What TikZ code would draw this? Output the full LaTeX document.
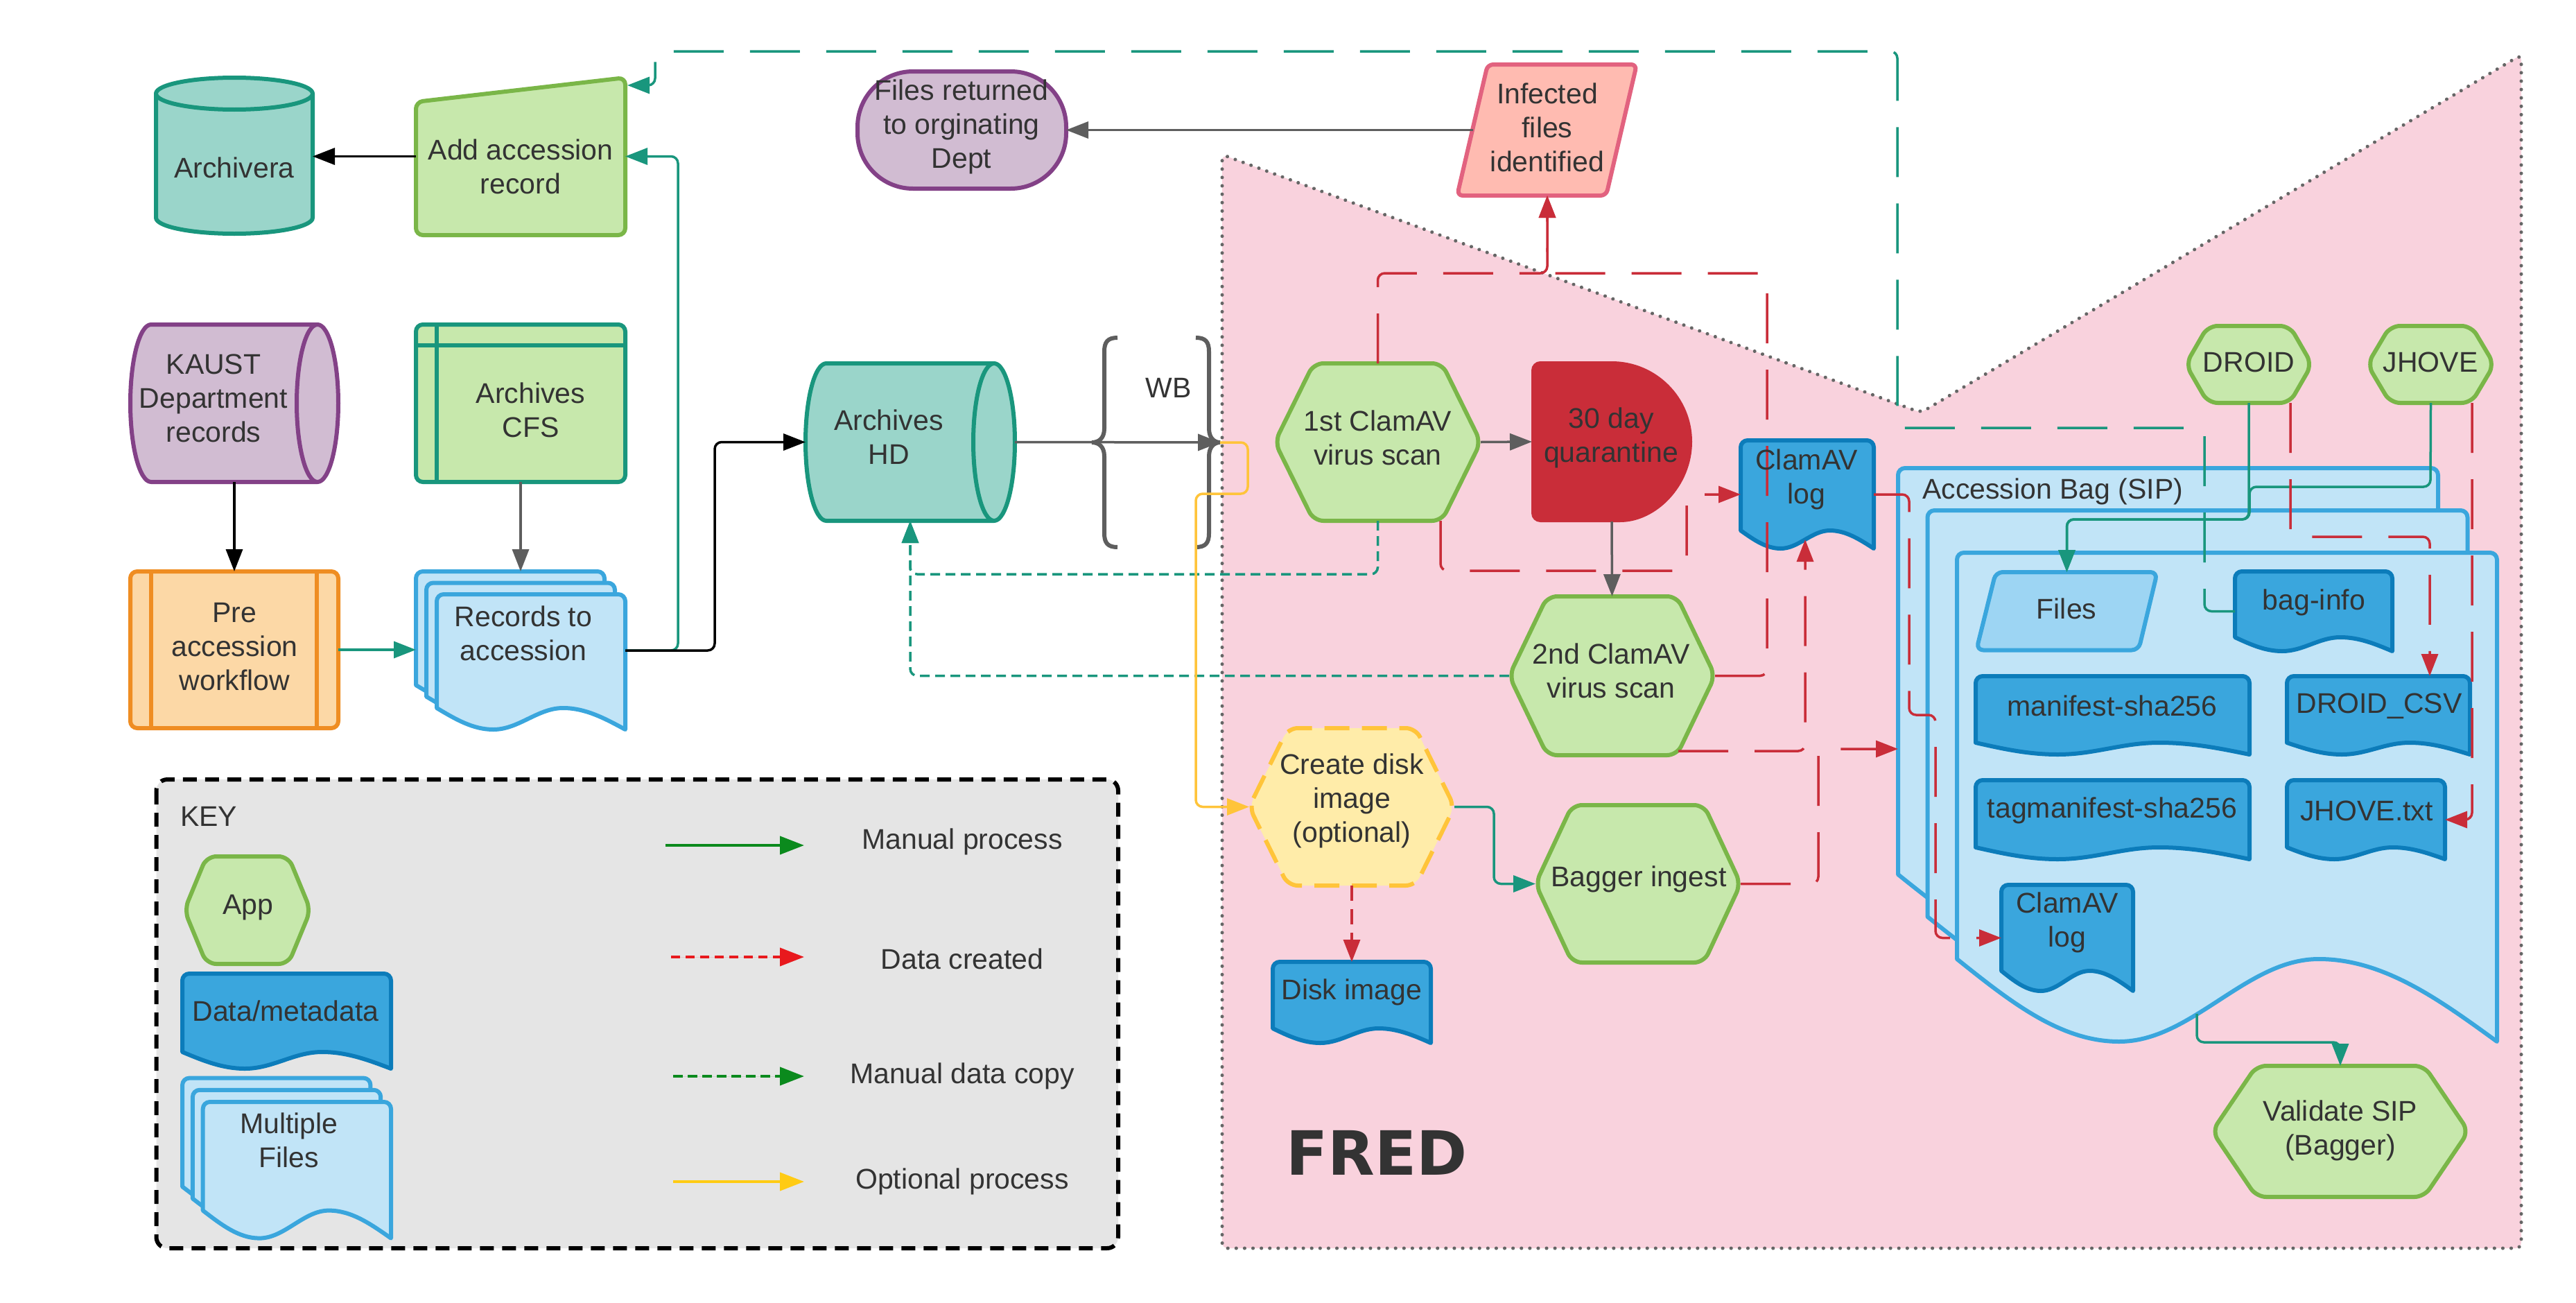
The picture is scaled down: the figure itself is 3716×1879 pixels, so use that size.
\documentclass[tikz,border=0pt]{standalone}
\usepackage{fontspec}
\setmainfont{Liberation Sans}
\newfontfamily\fredfont{DejaVu Sans}
\usetikzlibrary{arrows.meta,calc}
\definecolor{txt}{HTML}{333333}
\definecolor{grnS}{HTML}{7AB648}
\definecolor{grnF}{HTML}{C7E8AC}
\definecolor{tealS}{HTML}{19967D}
\definecolor{tealF}{HTML}{9AD5CA}
\definecolor{purS}{HTML}{834187}
\definecolor{purF}{HTML}{D1BCD2}
\definecolor{orS}{HTML}{EF8D22}
\definecolor{orF}{HTML}{FCD8A6}
\definecolor{lbS}{HTML}{3AA6DD}
\definecolor{lbF}{HTML}{C1E4F7}
\definecolor{dbS}{HTML}{0C7CBA}
\definecolor{dbF}{HTML}{3AA6DD}
\definecolor{redS}{HTML}{C92D39}
\definecolor{pinkF}{HTML}{F9D2DD}
\definecolor{infF}{HTML}{FFBBB1}
\definecolor{infS}{HTML}{E2627F}
\definecolor{yelS}{HTML}{FFC43A}
\definecolor{yelF}{HTML}{FFECA9}
\definecolor{filF}{HTML}{9DD5F3}
\definecolor{gryS}{HTML}{5E5E5E}
\definecolor{dotS}{HTML}{666666}
\definecolor{keyF}{HTML}{E5E5E5}
\definecolor{lgGreen}{HTML}{0B8A1D}
\definecolor{lgRed}{HTML}{E8191D}
\definecolor{lgYel}{HTML}{FFCB14}

\newcommand\hexa[6][]{\draw[#1] ({#2},{((#3)+(#5))/2}) -- ({(#2)+(#6)},{#3}) -- ({(#4)-(#6)},{#3}) -- ({#4},{((#3)+(#5))/2}) -- ({(#4)-(#6)},{#5}) -- ({(#2)+(#6)},{#5}) -- cycle;}
\newcommand\docu[6][]{\draw[#1] ({#2},{(#5)-(#6)}) [rounded corners=10pt] -- ({#2},{#3}) -- ({#4},{#3}) [sharp corners] -- ({#4},{#5}) sin ({(#2)+0.67*((#4)-(#2))},{(#5)-(#6)}) cos ({(#2)+0.485*((#4)-(#2))},{(#5)-0.5*(#6)}) sin ({(#2)+0.3*((#4)-(#2))},{#5}) cos ({#2},{(#5)-(#6)}) -- cycle;}
\newcommand\mdoc[8][]{%
 \docu[#1]{(#2)-2*(#7)}{(#3)-2*(#8)}{(#4)-2*(#7)}{(#5)-2*(#8)}{#6}
 \docu[#1]{(#2)-(#7)}{(#3)-(#8)}{(#4)-(#7)}{(#5)-(#8)}{#6}
 \docu[#1]{#2}{#3}{#4}{#5}{#6}}

\begin{document}
\begin{tikzpicture}[x=1pt,y=-1pt,
  geo/.style={inner sep=0pt,outer sep=0pt,draw=none,rectangle},
  lbl/.style={inner sep=0pt,text=txt,align=center,font=\fontsize{41}{49}\selectfont},
  shp/.style={line width=6pt,line join=round},
  arrtip/.style={-{Triangle[length=32pt,width=24pt]}},
  cn/.style={line width=3.5pt,rounded corners=10pt,arrtip},
  blk/.style={cn,draw=black},
  gry/.style={cn,draw=gryS},
  tl/.style={cn,draw=tealS},
  rd/.style={cn,draw=redS},
  yl/.style={cn,draw=yelS},
  longdash/.style={dash pattern=on 72pt off 38pt},
  shortdash/.style={dash pattern=on 14pt off 8pt},
  meddash/.style={dash pattern=on 22pt off 12pt},
  appS/.style={shp,fill=grnF,draw=grnS,rounded corners=14pt},
  dataS/.style={shp,fill=dbF,draw=dbS},
  multiS/.style={shp,fill=lbF,draw=lbS},
  lgline/.style={line width=4pt,-{Triangle[length=35pt,width=26pt]}},
]
\useasboundingbox (0,0) rectangle (3716,1879);
\fill[white] (0,0) rectangle (3716,1879);

% FRED region
\draw[fill=pinkF,draw=dotS,line width=5pt,dash pattern=on 0.1pt off 12pt,line cap=round,rounded corners=8pt]
  (1763,223) -- (2771,595) -- (3637,79) -- (3637,1800) -- (1763,1800) -- cycle;
\node[text=txt,font=\fredfont\bfseries\fontsize{88}{88}\selectfont,inner sep=0pt] (t-fred) at (1986,1662) {FRED};

% KEY box
\draw[fill=keyF,draw=black,line width=6pt,dash pattern=on 20pt off 12pt,rounded corners=16pt] (225.5,1124) rectangle (1613,1800);
\node[geo,minimum width=1388pt,minimum height=676pt] (keybox) at (919,1462) {};

% ---------- shapes ----------
% Archivera
\path[shp,fill=tealF,draw=tealS] (225,135) -- (225,314) .. controls (225,326.7) and (275.6,337) .. (338,337) .. controls (400.4,337) and (451,326.7) .. (451,314) -- (451,135) -- cycle;
\path[shp,fill=tealF,draw=tealS] (338,135) ellipse [x radius=113, y radius=23];
\node[geo,minimum width=226pt,minimum height=225pt] (archivera) at (338,224.5) {};
% Add accession record
\path[shp,fill=grnF,draw=grnS,rounded corners=10pt] (600,147) -- (902,112) -- (902,339) -- (600,339) -- cycle;
\node[geo,minimum width=302pt,minimum height=227pt] (addacc) at (751,225.5) {};
% KAUST
\path[shp,fill=purF,draw=purS] (458,468) -- (218,468) .. controls (201.4,468) and (188,518.8) .. (188,581.5) .. controls (188,644.2) and (201.4,695) .. (218,695) -- (458,695) -- cycle;
\path[shp,fill=purF,draw=purS] (458,581.5) ellipse [x radius=30, y radius=113.5];
\node[geo,minimum width=300pt,minimum height=227pt] (kaust) at (338,581.5) {};
% Archives CFS
\path[shp,fill=grnF,draw=tealS,rounded corners=10pt] (600,468) rectangle (902,695);
\draw[shp,draw=tealS] (630,468) -- (630,695) (600,498) -- (902,498);
\node[geo,minimum width=302pt,minimum height=227pt] (cfs) at (751,581.5) {};
% Pre accession
\path[shp,fill=orF,draw=orS,rounded corners=10pt] (188,824) rectangle (488,1050);
\draw[shp,draw=orS] (217.5,824) -- (217.5,1050) (457,824) -- (457,1050);
\node[geo,minimum width=300pt,minimum height=226pt] (pre) at (338,937) {};
% Records to accession
\mdoc[multiS]{630}{857}{902}{1052}{31}{15}{16.5}
\node[geo,minimum width=302pt,minimum height=228pt] (records) at (751,938) {};
% Archives HD
\path[shp,fill=tealF,draw=tealS] (1434,524) -- (1192,524) .. controls (1175.4,524) and (1162,574.8) .. (1162,637.5) .. controls (1162,700.2) and (1175.4,751) .. (1192,751) -- (1434,751) -- cycle;
\path[shp,fill=tealF,draw=tealS] (1434,637.5) ellipse [x radius=30, y radius=113.5];
\node[geo,minimum width=302pt,minimum height=227pt] (hd) at (1313,637.5) {};
% WB braces
\draw[gryS,line width=6pt] (1612,487) .. controls (1598,487) and (1593,493) .. (1593,507) -- (1593,618) .. controls (1593,632) and (1585,638) .. (1575,638) .. controls (1585,638) and (1593,644) .. (1593,658) -- (1593,769) .. controls (1593,783) and (1598,789) .. (1612,789);
\draw[gryS,line width=6pt] (1725,487) .. controls (1739,487) and (1744,493) .. (1744,507) -- (1744,618) .. controls (1744,632) and (1752,638) .. (1760,638) .. controls (1752,638) and (1744,644) .. (1744,658) -- (1744,769) .. controls (1744,783) and (1739,789) .. (1725,789);
\coordinate (wbtip) at (1760,638);
% Files returned
\path[shp,fill=purF,draw=purS,rounded corners=80pt] (1237,103) rectangle (1538,272);
\node[geo,minimum width=301pt,minimum height=169pt] (filesret) at (1387.5,187.5) {};
% Infected
\path[shp,fill=infF,draw=infS,rounded corners=8pt] (2146,93) -- (2361,93) -- (2317,282) -- (2102,282) -- cycle;
\node[geo,minimum width=215pt,minimum height=189pt] (infected) at (2232,187.5) {};
% 1st ClamAV
\hexa[appS]{1839}{524}{2136}{751}{56}
\node[geo,minimum width=297pt,minimum height=227pt] (clam1) at (1987.5,637.5) {};
% quarantine
\path[fill=redS,draw=redS,line width=2pt,rounded corners=12pt] (2325,522) -- (2210,522) -- (2210,752) -- (2325,752) [sharp corners] .. controls (2388.5,752) and (2440,700.5) .. (2440,637) .. controls (2440,573.5) and (2388.5,522) .. (2325,522) -- cycle;
\node[geo,minimum width=230pt,minimum height=230pt] (quar) at (2325,637) {};
% ClamAV log
\docu[dataS]{2511}{635}{2703}{791}{26}
\node[geo,minimum width=192pt,minimum height=156pt] (clamlog) at (2607,713) {};
% 2nd ClamAV
\hexa[appS]{2177}{860}{2474}{1089}{55}
\node[geo,minimum width=297pt,minimum height=229pt] (clam2) at (2325.5,974.5) {};
% Create disk image
\hexa[shp,fill=yelF,draw=yelS,rounded corners=14pt,dash pattern=on 36pt off 18pt]{1802}{1050}{2098}{1277}{56}
\node[geo,minimum width=296pt,minimum height=227pt] (createdisk) at (1950,1163.5) {};
% Bagger ingest
\hexa[appS]{2215}{1161}{2511}{1388}{53}
\node[geo,minimum width=296pt,minimum height=227pt] (bagger) at (2363,1274.5) {};
% Disk image
\docu[dataS]{1836}{1387}{2064}{1504}{21}
\node[geo,minimum width=228pt,minimum height=117pt] (diskimg) at (1950,1445.5) {};
% Accession bag
\mdoc[multiS]{2823}{797}{3602}{1502}{119}{42.5}{61}
\node[geo,minimum width=864pt,minimum height=828pt] (bag) at (3170,1088) {};
% DROID, JHOVE
\hexa[appS]{3153}{470}{3335}{581}{32}
\node[geo,minimum width=182pt,minimum height=111pt] (droid) at (3244,525.5) {};
\hexa[appS]{3415}{470}{3598}{581}{33}
\node[geo,minimum width=183pt,minimum height=111pt] (jhove) at (3506.5,525.5) {};
% Files
\path[shp,fill=filF,draw=lbS,rounded corners=10pt] (2879,825) -- (3112,825) -- (3085,937.5) -- (2851,937.5) -- cycle;
\node[geo,minimum width=234pt,minimum height=112pt] (files) at (2981.5,881) {};
% bag docs
\docu[dataS]{3224}{824}{3451}{939}{20}
\node[geo,minimum width=227pt,minimum height=115pt] (baginfo) at (3337.5,881.5) {};
\docu[dataS]{2850}{975}{3245}{1088}{17}
\node[geo,minimum width=395pt,minimum height=113pt] (manifest) at (3047.5,1031.5) {};
\docu[dataS]{3299}{975}{3563}{1088}{17}
\node[geo,minimum width=264pt,minimum height=113pt] (droidcsv) at (3431,1031.5) {};
\docu[dataS]{2850}{1125}{3245}{1239}{17}
\node[geo,minimum width=395pt,minimum height=114pt] (tagman) at (3047.5,1182) {};
\docu[dataS]{3299}{1125}{3527}{1239}{17}
\node[geo,minimum width=228pt,minimum height=114pt] (jhovetxt) at (3413,1182) {};
\docu[dataS]{2887}{1276}{3077}{1429}{29}
\node[geo,minimum width=190pt,minimum height=153pt] (clamlog2) at (2982,1352.5) {};
% Validate SIP
\hexa[appS]{3191}{1537}{3561}{1726}{64}
\node[geo,minimum width=370pt,minimum height=189pt] (validate) at (3376,1631.5) {};
% Key shapes
\hexa[appS]{266}{1235}{448}{1390}{32}
\node[geo,minimum width=182pt,minimum height=155pt] (app) at (357,1312.5) {};
\docu[dataS]{263}{1404}{564}{1541}{24}
\node[geo,minimum width=301pt,minimum height=137pt] (datameta) at (413.5,1472.5) {};
\mdoc[multiS]{292.7}{1589}{564}{1785.6}{40}{14.8}{17.2}
\node[geo,minimum width=301pt,minimum height=231pt] (multfiles) at (413.5,1670) {};

% ---------- connectors ----------
\coordinate (addaccin) at (905,123);
\coordinate (infjoin) at (2232,394);
\coordinate (c1se) at (2078,751);
\coordinate (c2se) at (2421,1083);
\coordinate (clamlogb) at (2604,778);
\coordinate (bagin) at (2738,1080);
\coordinate (dse) at (3304,581);
\coordinate (csvin) at (3505,975);
\coordinate (jse) at (3566,581);
\coordinate (bagbot) at (3169,1462);

\draw[blk] (addacc.west) -- (addacc.west -| archivera.east);
\draw[blk] (kaust.south) -- (pre.north);
\draw[gry] (cfs.south) -- (records.north);
\draw[tl] (pre.east) -- (pre.east -| records.west);
\draw[tl] (records.east) -- ++(76,0) |- (addacc.east);
\draw[blk] (records.east) -- ++(129,0) |- (hd.west);
\draw[gry] (hd.east) -- (wbtip);
\draw[tl,longdash] (baginfo.west) -- (3180,881.5) -- (3180,617) -- (2737,617) -- (2737,74) -- (945,74) -- (945,123) -- (addaccin);
\draw[gry] (infected.west) -- (filesret.east);
\draw[rd,longdash] (clam1.north) |- (infjoin) -- (infected.south);
\draw[rd,longdash] (clam2.east) -- (2549,974.5) |- (infjoin) -- (infected.south);
\draw[rd,longdash] (c1se) -- (2078,823) -- (2433,823) |- (clamlog.west);
\draw[rd,longdash] (c2se) -- (2604,1083) -- (clamlogb);
\draw[tl,shortdash] (clam1.south) -- ++(0,77) -| (hd.south);
\draw[tl,shortdash] (clam2.west) -| (hd.south);
\draw[gry] (clam1.east) -- (quar.west);
\draw[gry] (quar.south) -- (clam2.north);
\draw[yl] (wbtip) -- (1800,638) -- (1800,712) -- (1725,712) |- (createdisk.west);
\draw[tl] (createdisk.east) -- ++(57,0) |- (bagger.west);
\draw[rd,meddash] (createdisk.south) -- (diskimg.north);
\draw[rd,longdash] (bagger.east) -- (2623,1274.5) |- (bagin);
\draw[rd,longdash] (clamlog.east) -- (2754,713) -- (2754,1031) -- (2792,1031) |- (clamlog2.west);
\draw[tl] (droid.south) -- (3244,749) -| (files.north);
\draw[tl] (jhove.south) -- (3506,702) -- (3245,702) -- (3245,749) -| (files.north);
\draw[rd,longdash] (dse) -- (3304,774) -| (csvin);
\draw[rd,longdash] (jse) |- (jhovetxt.east);
\draw[tl] (bagbot) -- (3169,1503) -| (validate.north);

% legend lines
\coordinate (l1a) at (960,1219); \coordinate (l1b) at (1160,1219);
\coordinate (l2a) at (968,1380); \coordinate (l2b) at (1160,1380);
\coordinate (l3a) at (971,1552); \coordinate (l3b) at (1160,1552);
\coordinate (l4a) at (971,1704); \coordinate (l4b) at (1160,1704);
\draw[lgline,draw=lgGreen,fill=lgGreen] (l1a) -- (l1b);
\draw[lgline,draw=lgRed,fill=lgRed,dash pattern=on 13pt off 8pt] (l2a) -- (l2b);
\draw[lgline,draw=lgGreen,fill=lgGreen,dash pattern=on 14pt off 7pt] (l3a) -- (l3b);
\draw[lgline,draw=lgYel,fill=lgYel] (l4a) -- (l4b);

% ---------- texts ----------
\node[lbl] (t-archivera) at (338,242) {Archivera};
\node[lbl] (t-addacc) at (751,240.5) {Add accession\\record};
\node[lbl] (t-kaust) at (308,574) {KAUST\\Department\\records};
\node[lbl] (t-cfs) at (765.5,591) {Archives\\CFS};
\node[lbl] (t-pre) at (338.5,933) {Pre\\accession\\workflow};
\node[lbl] (t-records) at (755,913) {Records to\\accession};
\node[lbl] (t-hd) at (1282,630.5) {Archives\\HD};
\node[lbl] (t-wb) at (1686,559) {WB};
\node[lbl] (t-filesret) at (1387,183) {Files returned\\to orginating\\Dept};
\node[lbl] (t-infected) at (2232,184) {Infected\\files\\identified};
\node[lbl] (t-clam1) at (1987.5,631) {1st ClamAV\\virus scan};
\node[lbl] (t-quar) at (2324,631) {30 day\\quarantine};
\node[lbl] (t-clamlog) at (2606,691) {ClamAV\\log};
\node[lbl] (t-clam2) at (2324,967) {2nd ClamAV\\virus scan};
\node[lbl] (t-create) at (1950,1155) {Create disk\\image\\(optional)};
\node[lbl] (t-bagger) at (2364,1268) {Bagger ingest};
\node[lbl] (t-disk) at (1950,1431) {Disk image};
\node[lbl,anchor=west] (t-bag) at (2773,709) {Accession Bag (SIP)};
\node[lbl] (t-droid) at (3244,522) {DROID};
\node[lbl] (t-jhove) at (3506,522) {JHOVE};
\node[lbl] (t-files) at (2981,878) {Files};
\node[lbl] (t-baginfo) at (3338,869) {bag-info};
\node[lbl] (t-manifest) at (3047,1018) {manifest-sha256};
\node[lbl] (t-droidcsv) at (3432,1018) {DROID\_CSV};
\node[lbl] (t-tagman) at (3047,1169) {tagmanifest-sha256};
\node[lbl] (t-jhovetxt) at (3414,1169) {JHOVE.txt};
\node[lbl] (t-clamlog2) at (2982,1330) {ClamAV\\log};
\node[lbl] (t-validate) at (3376,1630) {Validate SIP\\(Bagger)};
\node[lbl,anchor=west] (t-key) at (260,1177) {KEY};
\node[lbl] (t-app) at (358,1309) {App};
\node[lbl] (t-datameta) at (412,1458) {Data/metadata};
\node[lbl] (t-multfiles) at (417,1644) {Multiple\\Files};
\node[lbl] (t-l1) at (1388,1214) {Manual process};
\node[lbl] (t-l2) at (1388,1383) {Data created};
\node[lbl] (t-l3) at (1388,1552) {Manual data copy};
\node[lbl] (t-l4) at (1388,1704) {Optional process};
\end{tikzpicture}
\end{document}
